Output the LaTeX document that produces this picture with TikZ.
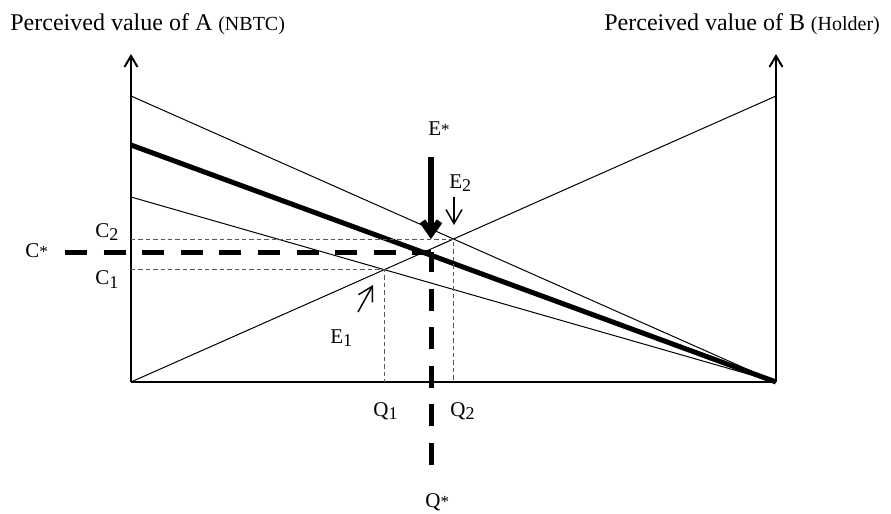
\documentclass[tikz,border=0pt]{standalone}
\usepackage{fontspec}
\setmainfont{Liberation Serif}
\usetikzlibrary{arrows.meta}
\newcommand{\lowsub}[1]{\raisebox{-1.8pt}{\fontsize{9}{10}\selectfont #1}}
\newcommand{\upstar}{{\fontsize{8.5}{9}\selectfont *}}

\begin{document}
\begin{tikzpicture}[
    x=0.5pt, y=-0.5pt,
    >={Straight Barb[length=5.5pt,width=6.5pt]},
    every node/.style={inner sep=0pt},
    heading/.style={font=\fontsize{12}{14}\selectfont,anchor=base west},
    lbl/.style={font=\fontsize{10.5}{12}\selectfont,anchor=base west},
    axis/.style={->,line width=1pt},
    valueline/.style={line width=0.5pt},
    optline/.style={line width=2.5pt},
    guide/.style={black!65,line width=0.5pt,dash pattern=on 2.2pt off 1.5pt},
    eqdash/.style={line width=2.5pt,dash pattern=on 11pt off 8.3pt},
    pointer/.style={-{Straight Barb[length=7pt,width=8pt]},line width=0.75pt},
    bigpointer/.style={-{Straight Barb[length=6pt,width=8.5pt]},line width=3.3pt},
]
\useasboundingbox (0,0) rectangle (891,514);

% Axes
\coordinate (origin) at (131,382);
\coordinate (base) at (776,382);
\coordinate (topA) at (131,54);
\coordinate (topB) at (776,54);
\draw[axis] (origin) -- (topA);
\draw[axis] (base) -- (topB);
\draw[line width=1pt] (origin) -- (base);

% Value lines
\coordinate (a1) at (131,96);
\coordinate (a2) at (131,145);
\coordinate (a3) at (131,197);
\coordinate (b1) at (776,96);
\draw[valueline] (a1) -- (base);
\draw[valueline] (a3) -- (base);
\draw[valueline] (origin) -- (b1);
\draw[optline] (a2) -- (base);

% Equilibria
\coordinate (E1) at (intersection of a3--base and origin--b1);
\coordinate (E2) at (intersection of a1--base and origin--b1);
\coordinate (Es) at (431,252);
\draw[guide] (E1 -| origin) -- (E1) -- (E1 |- origin);
\draw[guide] (E2 -| origin) -- (E2) -- (E2 |- origin);

\coordinate (cleft) at (65,252);
\coordinate (qlow) at (431,465);
\draw[eqdash] (cleft) -- (Es);
\draw[eqdash] (qlow) -- (Es);

% Pointers
\coordinate (estart) at (431,157);
\coordinate (etip) at (431,239);
\draw[bigpointer] (estart) -- (etip);
\coordinate (e2start) at (454,197);
\coordinate (e2tip) at (454,225);
\draw[pointer] (e2start) -- (e2tip);
\coordinate (e1start) at (358,312);
\coordinate (e1tip) at (373,285);
\draw[pointer] (e1start) -- (e1tip);

% Titles
\node[heading] (titleA) at (10,31) {Perceived value of A {\fontsize{10}{12}\selectfont(NBTC)}};
\node[heading] (titleB) at (604,31) {Perceived value of B {\fontsize{10}{12}\selectfont(Holder)}};

% Labels
\node[lbl] (estar) at (428,135) {E\upstar};
\node[lbl] (etwo) at (449,188) {E\lowsub{2}};
\node[lbl] (eone) at (330,343) {E\lowsub{1}};
\node[lbl] (ctwo) at (95,237) {C\lowsub{2}};
\node[lbl] (cone) at (95,285) {C\lowsub{1}};
\node[lbl] (cstar) at (25,257) {C\upstar};
\node[lbl] (qone) at (373,416) {Q\lowsub{1}};
\node[lbl] (qtwo) at (450,416) {Q\lowsub{2}};
\node[lbl] (qstar) at (425,507) {Q\upstar};

\end{tikzpicture}
\end{document}
